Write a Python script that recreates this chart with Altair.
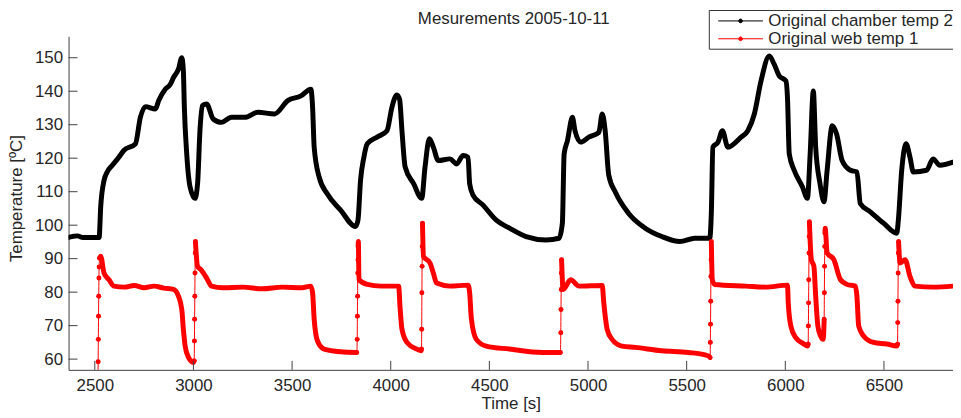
import altair as alt
import pandas as pd

# ---- data ----
chart_title = "Mesurements 2005-10-11"
series_names = ["Original chamber temp 2", "Original web temp 1"]
series_colors = ["#000000", "#ff0000"]

chamber_t = [2362, 2412, 2440, 2522, 2530, 2547, 2563, 2589, 2622, 2647,
             2706, 2731, 2757, 2807, 2824, 2857, 2883, 2899, 2924, 2941,
             2949, 2954, 2966, 2983, 3008, 3021, 3033, 3045, 3067, 3100,
             3142, 3193, 3260, 3327, 3411, 3478, 3545, 3595, 3604, 3612,
             3637, 3679, 3746, 3822, 3834, 3847, 3864, 3881, 3931, 3981,
             4006, 4031, 4045, 4057, 4073, 4116, 4157, 4174, 4196, 4216,
             4241, 4300, 4334, 4367, 4392, 4400, 4417, 4468, 4535, 4602,
             4686, 4787, 4853, 4870, 4879, 4896, 4921, 4934, 4963, 5004,
             5055, 5072, 5087, 5105, 5139, 5206, 5290, 5374, 5466, 5541,
             5617, 5625, 5633, 5659, 5681, 5709, 5776, 5810, 5843, 5877,
             5919, 5944, 5969, 6003, 6011, 6020, 6045, 6087, 6112, 6126,
             6142, 6154, 6176, 6196, 6212, 6238, 6260, 6288, 6330, 6363,
             6380, 6431, 6498, 6565, 6573, 6590, 6612, 6632, 6649, 6716,
             6749, 6783, 6850]
chamber_v = [96.3, 96.8, 96.3, 96.3, 105.5, 113.4, 115.9, 117.9, 120.3, 122.3,
             124.3, 132.2, 135.4, 134.7, 137.2, 140.6, 142.1, 144.1, 146.6, 150.0,
             146.0, 135.2, 121.3, 111.4, 108.0, 112.4, 128.2, 135.7, 136.2, 131.7,
             130.7, 132.2, 132.2, 133.7, 133.2, 137.2, 138.6, 140.6, 135.2, 123.3,
             114.4, 109.3, 104.5, 99.6, 101.5, 113.4, 120.3, 124.3, 126.3, 128.2,
             135.2, 138.9, 137.6, 128.2, 117.4, 112.4, 108.0, 117.4, 125.8, 123.3,
             119.3, 119.8, 118.3, 120.8, 120.3, 112.4, 109.0, 106.0, 101.5, 99.1,
             96.6, 95.6, 96.1, 100.6, 121.3, 125.3, 132.2, 128.2, 124.8, 126.3,
             127.7, 133.2, 128.2, 115.0, 109.8, 103.5, 99.1, 96.6, 95.1, 96.1,
             96.1, 103.5, 123.3, 124.8, 128.2, 123.3, 126.3, 128.2, 133.2, 143.1,
             150.5, 148.0, 144.6, 143.1, 138.1, 121.3, 116.4, 111.4, 108.0, 121.3,
             140.1, 123.3, 112.4, 107.0, 116.4, 129.7, 127.2, 119.3, 116.4, 115.9,
             106.5, 104.0, 100.6, 97.6, 101.5, 116.4, 124.3, 120.3, 115.9, 116.4,
             119.8, 117.9, 118.8]

web_t = [2516, 2517, 2518, 2519, 2520, 2521, 2522, 2524, 2530, 2547,
         2572, 2597, 2650, 2700, 2750, 2800, 2850, 2899, 2924, 2941,
         2949, 2958, 2975, 3000, 3004, 3005, 3006, 3007, 3008, 3009,
         3010, 3021, 3038, 3067, 3092, 3150, 3250, 3350, 3450, 3550,
         3595, 3604, 3612, 3629, 3662, 3746, 3828, 3830, 3831, 3832,
         3833, 3834, 3835, 3836, 3839, 3881, 3950, 4040, 4048, 4057,
         4082, 4132, 4154, 4156, 4157, 4158, 4159, 4160, 4161, 4166,
         4199, 4216, 4233, 4300, 4392, 4400, 4409, 4434, 4484, 4602,
         4769, 4860, 4862, 4863, 4864, 4865, 4866, 4874, 4912, 4954,
         5072, 5080, 5097, 5122, 5172, 5240, 5374, 5508, 5608, 5619,
         5620, 5621, 5622, 5623, 5624, 5625, 5630, 5642, 5800, 5900,
         6011, 6015, 6028, 6053, 6095, 6112, 6116, 6117, 6118, 6119,
         6120, 6121, 6122, 6132, 6145, 6154, 6165, 6179, 6192, 6197,
         6198, 6199, 6200, 6201, 6202, 6212, 6246, 6280, 6313, 6355,
         6363, 6372, 6397, 6447, 6514, 6565, 6569, 6570, 6571, 6572,
         6573, 6574, 6582, 6607, 6632, 6657, 6750, 6850]
web_v = [52.0, 59.2, 65.9, 72.8, 78.8, 84.2, 87.5, 90.2, 90.7, 85.7,
         83.7, 81.8, 81.5, 82.0, 81.3, 81.8, 81.2, 80.8, 78.8, 74.8,
         68.9, 63.9, 60.5, 59.0, 59.5, 65.4, 71.9, 78.8, 85.7, 91.7,
         95.1, 87.7, 86.7, 84.2, 81.8, 81.3, 81.5, 81.0, 81.5, 81.3,
         81.8, 79.8, 71.9, 65.4, 63.0, 62.2, 62.0, 65.9, 72.8, 78.8,
         85.7, 89.7, 93.6, 95.1, 83.7, 82.3, 81.8, 81.8, 74.8, 68.9,
         65.0, 63.0, 62.5, 63.0, 68.9, 79.8, 87.7, 93.6, 100.6, 90.7,
         88.7, 85.7, 82.7, 81.8, 82.1, 79.8, 71.9, 65.9, 63.9, 63.0,
         62.0, 62.0, 67.9, 74.8, 80.8, 85.7, 89.7, 80.8, 83.7, 81.8,
         82.0, 76.8, 68.9, 65.9, 63.9, 63.5, 62.5, 62.0, 61.0, 60.5,
         65.0, 70.4, 77.3, 84.7, 89.7, 95.1, 83.7, 82.3, 81.8, 81.5,
         82.1, 76.8, 69.9, 66.4, 64.5, 63.9, 64.5, 69.9, 76.8, 83.7,
         91.7, 96.6, 101.0, 89.7, 87.7, 78.8, 69.9, 66.9, 65.9, 71.9,
         79.8, 87.7, 93.6, 97.6, 99.1, 91.7, 89.7, 83.7, 82.3, 81.8,
         78.8, 69.9, 66.9, 65.0, 64.5, 63.9, 64.5, 70.9, 77.3, 85.7,
         91.7, 95.1, 88.7, 89.7, 84.7, 81.8, 81.5, 81.8]

x_ticks = [2500, 3000, 3500, 4000, 4500, 5000, 5500, 6000, 6500]
y_ticks = [60, 70, 80, 90, 100, 110, 120, 130, 140, 150]

assert len(chamber_t) == len(chamber_v)
assert len(web_t) == len(web_v)


def build(name, ts, vs):
    rows = []
    seg = 0
    for i, (t, v) in enumerate(zip(ts, vs)):
        sparse_prev = i > 0 and (t - ts[i - 1]) <= 2 and abs(v - vs[i - 1]) > 2.5
        sparse_next = i < len(ts) - 1 and (ts[i + 1] - t) <= 2 and abs(vs[i + 1] - v) > 2.5
        if sparse_prev:
            seg += 1
        rows.append({"t": t, "v": v, "series": name, "seg": f"{name}-{seg}",
                     "jump": bool(sparse_prev or sparse_next)})
    return rows


df = pd.DataFrame(build(series_names[0], chamber_t, chamber_v) +
                  build(series_names[1], web_t, web_v))
ticks_x = pd.DataFrame({"t": x_ticks})
ticks_y = pd.DataFrame({"v": y_ticks})
title_df = pd.DataFrame({"label": [chart_title]})

W, H = 891, 336
FONT = "Liberation Sans"
TXT = "#262626"
AX = "#404040"

xscale = alt.Scale(domain=[2367, 6850], nice=False, zero=False)
yscale = alt.Scale(domain=[56.8, 156.4], nice=False, zero=False)
cscale = alt.Scale(domain=series_names, range=series_colors)

legend_path = ("M-2.65,0L2.65,0M-0.22,0A0.22,0.22,0,1,1,0.22,0"
               "A0.22,0.22,0,1,1,-0.22,0Z")

x_axis = alt.Axis(
    title="Time [s]", values=x_ticks, format="d", tickSize=0,
    labelPadding=8, grid=False, labelOverlap=False,
    titleX=W / 2, titleY=34, titleBaseline="middle", titleAlign="center")
y_axis = alt.Axis(
    title="Temperature [ºC]", values=y_ticks, tickSize=0, labelPadding=6,
    grid=False, labelOverlap=False, titleX=-52, titleY=163, titleAngle=270,
    titleBaseline="middle", titleAlign="center")

x_enc = alt.X("t:Q", scale=xscale, axis=x_axis)
y_enc = alt.Y("v:Q", scale=yscale, axis=y_axis)

thin = alt.Chart(df).mark_line(strokeWidth=1, clip=True,
                               interpolate="monotone").encode(
    x=x_enc, y=y_enc,
    color=alt.Color("series:N", scale=cscale, legend=alt.Legend(
        title=None, orient="none", legendX=645, legendY=-26.5,
        direction="vertical", strokeColor="#333333", fillColor="white",
        padding=2, labelFontSize=17, labelFont=FONT, labelColor=TXT,
        symbolType=legend_path, symbolSize=289, symbolStrokeWidth=1,
        labelOffset=19, rowPadding=1, symbolOffset=21, labelLimit=400)),
    detail="series:N", order="t:Q")

thick = alt.Chart(df).mark_line(strokeWidth=5, clip=True, strokeCap="round",
                                strokeJoin="round",
                                interpolate="monotone").encode(
    x=x_enc, y=y_enc,
    color=alt.Color("series:N", scale=cscale, legend=None),
    detail="seg:N", order="t:Q")

dots = alt.Chart(df).transform_filter("datum.jump").mark_point(
    filled=True, size=18, opacity=1, clip=True).encode(
    x=x_enc, y=y_enc,
    color=alt.Color("series:N", scale=cscale, legend=None))

xt = alt.Chart(ticks_x).mark_rule(color=AX, strokeWidth=1).encode(
    x=x_enc, y=alt.value(H), y2=alt.value(H - 9))
yt = alt.Chart(ticks_y).mark_rule(color=AX, strokeWidth=1).encode(
    y=y_enc, x=alt.value(0), x2=alt.value(9))

title_mark = alt.Chart(title_df).mark_text(
    font=FONT, fontSize=17, color=TXT, align="center", baseline="alphabetic"
).encode(text="label:N", x=alt.value(W / 2 + 3), y=alt.value(-12))

chart = alt.layer(thin, thick, dots, xt, yt, title_mark).properties(
    width=W, height=H,
    autosize=alt.AutoSizeParams(type="none"),
    padding={"left": 61, "top": 27, "right": 0, "bottom": 47},
).configure_view(stroke=None).configure_axis(
    labelFont=FONT, labelFontSize=17, labelColor=TXT,
    titleFont=FONT, titleFontSize=17, titleColor=TXT, titleFontWeight="normal",
    domainColor=AX, domainWidth=1,
)

chart.save("out.html", embed_options={"renderer": "svg", "actions": False})
